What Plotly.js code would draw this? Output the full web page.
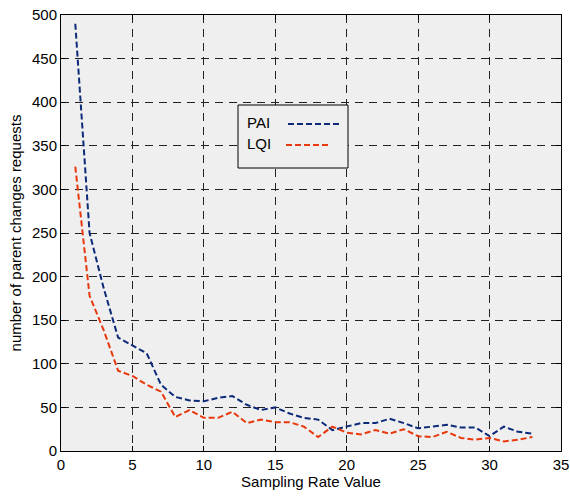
<!DOCTYPE html>
<html><head><meta charset="utf-8">
<script src="https://cdn.plot.ly/plotly-3.0.1.min.js"></script>
<style>body{margin:0;background:#fff}#c{width:570px;height:499px}</style>
</head><body><div id="c"></div>
<script>
const samplingRate = [1,2,3,4,5,6,7,8,9,10,11,12,13,14,15,16,17,18,19,20,21,22,23,24,25,26,27,28,29,30,31,32,33];
const paiValues = [490,250,186,130,121,112,76,62,58,57,61,63,53,47,50,43,38,36,24,28,32,32,37,32,26,28,30,27,27,17,28,22,20];
const lqiValues = [326,178,138,92,86,76,68,39,47,38,38,45,32,36,33,33,28,16,28,21,19,24,20,25,17,16,22,15,13,15,11,13,16];
const seriesNames = ['PAI','LQI'];
const seriesColors = ['#0d2a78','#e8380d'];
const xTicks = [0,5,10,15,20,25,30,35];
const yTicks = [0,50,100,150,200,250,300,350,400,450,500];

const FONT = 'Liberation Sans, Arial, sans-serif';
const traces = [paiValues, lqiValues].map((v,i)=>({
  x: samplingRate, y: v, type:'scatter', mode:'lines', name: seriesNames[i],
  line:{color:seriesColors[i], width:2, dash:'6px,3px'}, showlegend:false
}));

const axisCommon = {
  showline:true, linecolor:'#000', linewidth:1, mirror:'ticks',
  ticks:'inside', ticklen:5, tickcolor:'#000',
  showgrid:true, gridcolor:'#222', griddash:'8px,6px', gridwidth:1,
  zeroline:false, tickfont:{family:FONT, size:15, color:'#000'}
};

const px = p => (p-61)/500, py = p => (451-p)/436;
const shapes = [
  {type:'rect', xref:'paper', yref:'paper', x0:px(238), x1:px(348), y0:py(168), y1:py(105),
   line:{color:'#000', width:1}, fillcolor:'#efefef'}
];
const annotations = [];
const legTextY = [122, 143], legLineY = [124, 145], legLineX = [[288,339],[286,329]];
seriesNames.forEach((n,i)=>{
  annotations.push({xref:'paper', yref:'paper', x:px(245), y:py(legTextY[i]), xanchor:'left', yanchor:'middle',
    text:n, showarrow:false, font:{family:FONT, size:15, color:'#000'}});
  shapes.push({type:'line', xref:'paper', yref:'paper', x0:px(legLineX[i][0]), x1:px(legLineX[i][1]),
    y0:py(legLineY[i]), y1:py(legLineY[i]),
    line:{color:seriesColors[i], width:2, dash:'6px,3px'}});
});

const layout = {
  width:570, height:499,
  margin:{l:61, r:9, t:15, b:48},
  paper_bgcolor:'#fff', plot_bgcolor:'#efefef',
  xaxis:Object.assign({}, axisCommon, {range:[0,35], tickvals:xTicks,
    title:{text:'Sampling Rate Value', font:{family:FONT, size:15, color:'#000'}, standoff:3}}),
  yaxis:Object.assign({}, axisCommon, {range:[0,500], tickvals:yTicks,
    title:{text:'number of parent changes requests', font:{family:FONT, size:15, color:'#000'}, standoff:6}}),
  shapes:shapes, annotations:annotations
};
Plotly.newPlot('c', traces, layout, {displayModeBar:false, staticPlot:true});
</script></body></html>
